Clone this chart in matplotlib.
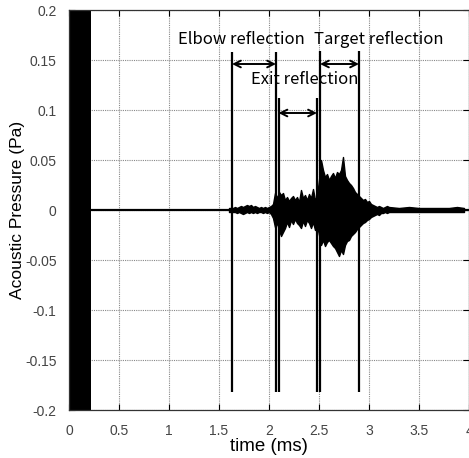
import matplotlib
matplotlib.use("Agg")
import matplotlib.pyplot as plt
import numpy as np

# saturated source pulse at the start (ms)
pulse_end = 0.22

# envelope of the recorded pressure (ms, Pa)
t_env = [1.60, 1.62, 1.64, 1.66, 1.68, 1.70, 1.72, 1.74, 1.76, 1.78,
         1.80, 1.82, 1.84, 1.86, 1.88, 1.90, 1.92, 1.94, 1.96, 1.98,
         2.00, 2.02, 2.04, 2.06, 2.08, 2.10, 2.12, 2.14, 2.16, 2.18,
         2.20, 2.22, 2.24, 2.26, 2.28, 2.30, 2.32, 2.34, 2.36, 2.38,
         2.40, 2.42, 2.44, 2.46, 2.48, 2.50, 2.52, 2.54, 2.56, 2.58,
         2.60, 2.62, 2.64, 2.66, 2.68, 2.70, 2.72, 2.74, 2.76, 2.78,
         2.80, 2.82, 2.84, 2.86, 2.88, 2.90, 2.92, 2.94, 2.96, 2.98,
         3.00, 3.02, 3.04, 3.06, 3.08, 3.10, 3.12, 3.14, 3.16, 3.18,
         3.20, 3.30, 3.40, 3.50, 3.60, 3.70, 3.80, 3.88, 3.95]
p_upper = [0.002, 0.002, 0.002, 0.003, 0.002, 0.003, 0.004, 0.003, 0.004, 0.005,
           0.004, 0.005, 0.003, 0.004, 0.003, 0.002, 0.003, 0.002, 0.003, 0.002,
           0.003, 0.004, 0.006, 0.017, 0.012, 0.018, 0.015, 0.017, 0.010, 0.013,
           0.009, 0.012, 0.014, 0.010, 0.013, 0.008, 0.020, 0.012, 0.015, 0.010,
           0.016, 0.012, 0.021, 0.010, 0.014, 0.030, 0.050, 0.040, 0.033, 0.036,
           0.030, 0.034, 0.037, 0.032, 0.038, 0.036, 0.040, 0.053, 0.034, 0.030,
           0.027, 0.025, 0.022, 0.018, 0.016, 0.014, 0.012, 0.010, 0.011, 0.008,
           0.009, 0.006, 0.005, 0.004, 0.003, 0.004, 0.003, 0.002, 0.003, 0.004,
           0.003, 0.002, 0.003, 0.002, 0.002, 0.002, 0.002, 0.003, 0.002]
p_lower = [-0.002, -0.002, -0.002, -0.002, -0.003, -0.002, -0.003, -0.004, -0.003, -0.002,
           -0.003, -0.002, -0.003, -0.002, -0.003, -0.002, -0.002, -0.003, -0.002, -0.003,
           -0.002, -0.004, -0.008, -0.017, -0.013, -0.020, -0.026, -0.022, -0.018, -0.012,
           -0.017, -0.010, -0.014, -0.009, -0.013, -0.015, -0.018, -0.011, -0.016, -0.010,
           -0.013, -0.018, -0.012, -0.020, -0.015, -0.025, -0.035, -0.030, -0.036, -0.032,
           -0.030, -0.033, -0.036, -0.038, -0.042, -0.046, -0.040, -0.044, -0.035, -0.031,
           -0.030, -0.026, -0.024, -0.022, -0.019, -0.017, -0.015, -0.013, -0.012, -0.010,
           -0.009, -0.007, -0.006, -0.005, -0.004, -0.005, -0.003, -0.003, -0.002, -0.003,
           -0.002, -0.002, -0.002, -0.002, -0.002, -0.002, -0.002, -0.002, -0.002]

# marker lines (ms) with their top ends (Pa)
mark_t = [1.63, 2.07, 2.095, 2.48, 2.51, 2.90]
mark_top = [0.158, 0.158, 0.112, 0.112, 0.159, 0.159]
mark_bottom = -0.182

# arrows: (start, end, height)
arrows = [(1.63, 2.07, 0.146), (2.095, 2.48, 0.097), (2.51, 2.90, 0.146)]
labels = [("Elbow reflection", 1.09, 0.171),
          ("Target reflection", 2.45, 0.171),
          ("Exit reflection", 1.82, 0.130)]

fig = plt.figure(figsize=(4.69, 4.58), dpi=100)
ax = fig.add_axes([69 / 469, 1 - 410 / 458, 400 / 469, 400 / 458])

ax.grid(True, color="#888888", linestyle=(0, (1, 1)), linewidth=0.8)
ax.set_axisbelow(True)

ax.fill_between([0, pulse_end], -0.25, 0.25, color="black", lw=0)
ax.plot([pulse_end, 4.0], [0, 0], color="black", lw=1.6)
ax.fill_between(t_env, p_lower, p_upper, facecolor="black",
                edgecolor="black", lw=1.0)

for x, top in zip(mark_t, mark_top):
    ax.plot([x, x], [mark_bottom, top], color="black", lw=1.6,
            solid_capstyle="butt")

for x0, x1, y in arrows:
    ax.annotate("", xy=(x0, y), xytext=(x1, y),
                arrowprops=dict(arrowstyle="<->", lw=1.4, color="black",
                                shrinkA=0, shrinkB=0, mutation_scale=12))

for txt, x, y in labels:
    ax.text(x, y, txt, fontsize=12, va="center", ha="left",
            family=["Noto Sans CJK KR", "DejaVu Sans"])

ax.set_xlim(0, 4)
ax.set_ylim(-0.2, 0.2)
ax.set_xticks(np.arange(0, 4.01, 0.5))
ax.set_xticklabels(["0", "0.5", "1", "1.5", "2", "2.5", "3", "3.5", "4"])
ax.set_yticks(np.arange(-0.2, 0.201, 0.05))
ax.set_yticklabels(["-0.2", "-0.15", "-0.1", "-0.05", "0", "0.05", "0.1", "0.15", "0.2"])
ax.tick_params(direction="in", length=4, top=True, right=True, labelsize=10,
               labelcolor="#444444")
ax.tick_params(axis="x", pad=10)
ax.tick_params(axis="y", pad=9)
for lab in ax.get_xticklabels() + ax.get_yticklabels():
    lab.set_family("Liberation Sans")
for s in ax.spines.values():
    s.set_color("#333333")
    s.set_linewidth(0.9)

ax.set_xlabel("time (ms)", fontsize=13.5, family="Liberation Sans", labelpad=0)
ax.set_ylabel("Acoustic Pressure (Pa)", fontsize=12.5, family="Liberation Sans",
              labelpad=2)
ax.yaxis.set_label_coords(-0.11, 0.5)

fig.savefig("out.png", dpi=100)
